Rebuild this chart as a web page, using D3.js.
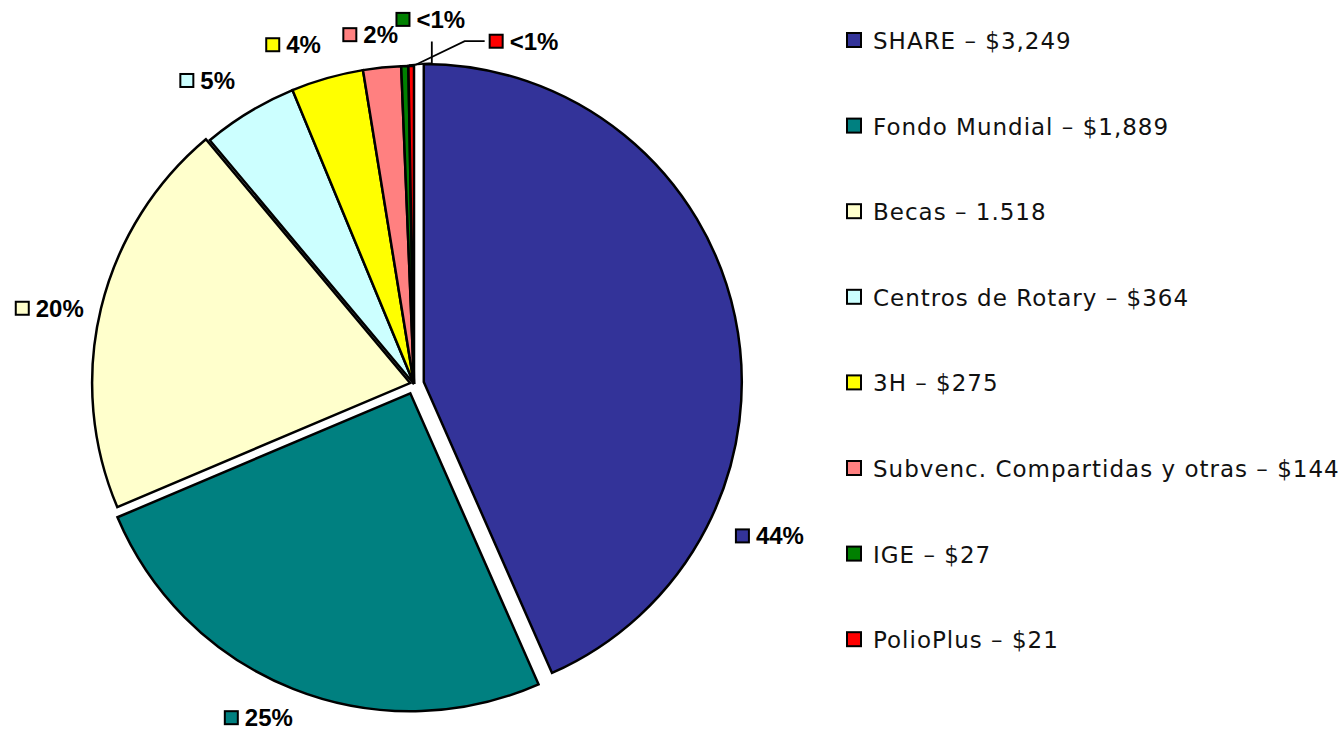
<!DOCTYPE html>
<html><head><meta charset="utf-8">
<script src="https://cdn.jsdelivr.net/npm/d3@7"></script>
<style>html,body{margin:0;padding:0;background:#fff;}svg{display:block;}</style>
</head><body>
<svg id="chart" width="1344" height="734"></svg>
<script>
// ---- data ----
const categories = ["SHARE", "Fondo Mundial", "Becas", "Centros de Rotary", "3H", "Subvenc. Compartidas y otras", "IGE", "PolioPlus"];
const values = [3249, 1889, 1518, 364, 275, 144, 27, 21];
const legendLabels = ["SHARE – $3,249", "Fondo Mundial – $1,889", "Becas – 1.518", "Centros de Rotary – $364", "3H – $275", "Subvenc. Compartidas y otras – $144", "IGE – $27", "PolioPlus – $21"];
const pctLabels = ["44%", "25%", "20%", "5%", "4%", "2%", "<1%", "<1%"];
const colors = ["#333399", "#008080", "#FFFFCC", "#CCFFFF", "#FFFF00", "#FF8080", "#008000", "#FF0000"];

// ---- layout (not data) ----
const cx = 414, cy = 384, R = 318;
const explode = [10, 10, 4, 0, 0, 0, 0, 0];
// label placement: angle offset (deg) from slice mid, radius from center
const labelAngleDelta = [35, 3.3, -1.8, -3, -3.7, -1.3, 4.3, 18.3];
const labelRadius = [387, 368, 372, 367, 360, 352, 365, 360];
const leader = [null, null, null, null, null, null, "vertical", "horizontal"];

const svg = d3.select("#chart");
const pie = d3.pie().sort(null).value(d => d);
const arcs = pie(values);
const arc = d3.arc().innerRadius(0).outerRadius(R);
const g = svg.append("g").attr("transform", `translate(${cx},${cy})`);

g.selectAll("path.slice").data(arcs).join("path")
  .attr("class", "slice")
  .attr("d", arc)
  .attr("transform", (d, i) => {
    const m = (d.startAngle + d.endAngle) / 2;
    return `translate(${explode[i] * Math.sin(m)},${-explode[i] * Math.cos(m)})`;
  })
  .attr("fill", (d, i) => colors[i])
  .attr("stroke", "#000")
  .attr("stroke-width", 2.5)
  .attr("stroke-linejoin", "miter");

// percentage labels
const lblFont = 24, sq = 13, gap = 7;
arcs.forEach((d, i) => {
  const m = (d.startAngle + d.endAngle) / 2 + labelAngleDelta[i] * Math.PI / 180;
  const lx = cx + labelRadius[i] * Math.sin(m);
  const ly = cy - labelRadius[i] * Math.cos(m);
  const grp = svg.append("g");
  const t = grp.append("text")
    .attr("font-family", "'Liberation Sans', Arial, sans-serif")
    .attr("font-weight", "bold")
    .attr("font-size", lblFont)
    .attr("fill", "#000")
    .attr("dominant-baseline", "central")
    .text(pctLabels[i]);
  const tw = t.node().getComputedTextLength();
  const total = sq + gap + tw;
  const left = lx - total / 2;
  t.attr("x", left + sq + gap).attr("y", ly);
  grp.append("rect")
    .attr("x", left).attr("y", ly - sq / 2)
    .attr("width", sq).attr("height", sq)
    .attr("fill", colors[i]).attr("stroke", "#000").attr("stroke-width", 2);

  if (leader[i]) {
    const mid = (d.startAngle + d.endAngle) / 2;
    const px = cx + (R + 1) * Math.sin(mid) + 4, py = cy - (R + 1) * Math.cos(mid);
    let pts;
    if (leader[i] === "vertical") {
      pts = [[px, py], [lx + 1, py - 2], [lx + 1, ly + 22]];
    } else {
      pts = [[px, py], [left - 25, ly], [left - 5, ly]];
    }
    svg.append("path").attr("d", d3.line()(pts))
      .attr("fill", "none").attr("stroke", "#000").attr("stroke-width", 1.8);
  }
});

// legend
const legX = 847, legY0 = 40, legStep = 85.6;
const leg = svg.append("g");
legendLabels.forEach((lab, i) => {
  const y = legY0 + i * legStep;
  leg.append("rect").attr("x", legX).attr("y", y - 7).attr("width", 14).attr("height", 14)
    .attr("fill", colors[i]).attr("stroke", "#000").attr("stroke-width", 2);
  leg.append("text").attr("x", legX + 26).attr("y", y + 1)
    .attr("dominant-baseline", "central")
    .attr("font-family", "'DejaVu Sans', sans-serif")
    .attr("font-size", 23)
    .attr("letter-spacing", 1.0)
    .attr("fill", "#111")
    .text(lab);
});
</script>
</body></html>
